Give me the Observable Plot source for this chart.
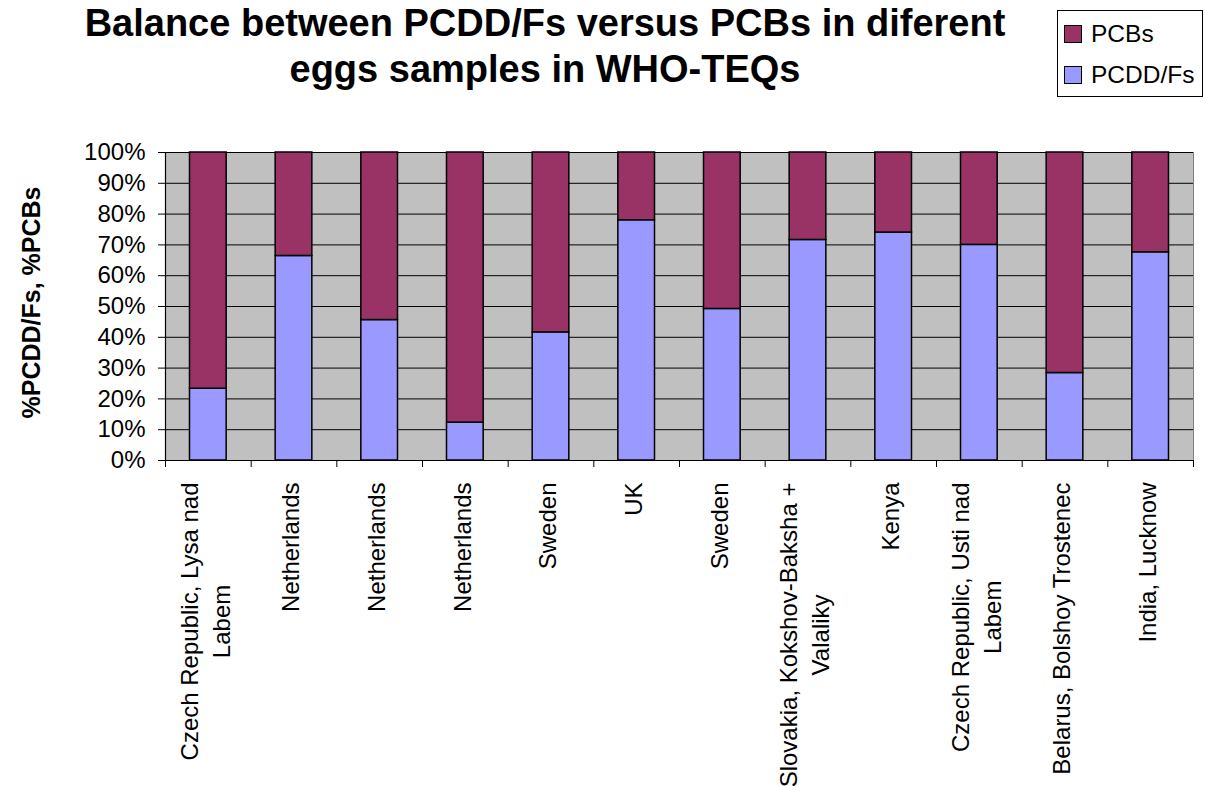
<!DOCTYPE html>
<html>
<head>
<meta charset="utf-8">
<script src="https://cdn.jsdelivr.net/npm/d3@7"></script>
<script src="https://cdn.jsdelivr.net/npm/@observablehq/plot@0.6"></script>
<style>
  html, body { margin: 0; padding: 0; background: #fff; }
  body { font-family: "Liberation Sans", Arial, sans-serif; color: #000; }
  #chart { position: relative; width: 1205px; height: 786px; overflow: hidden; }
  #title {
    position: relative; height: 120px;
  }
  #title div {
    position: absolute; left: 0; top: 0; width: 1090px;
    text-align: center; font-weight: bold; font-size: 38px; line-height: 46px;
  }
  #legend {
    position: absolute; left: 1057px; top: 10px; width: 146px; height: 87px;
    border: 1px solid #000; background: #fff; box-sizing: border-box;
  }
  #legend .item { position: absolute; left: 6px; display: flex; align-items: center; font-size: 24.5px; }
  #legend .swatch { width: 18px; height: 18px; border: 1px solid #000; box-sizing: border-box; margin-right: 9px; }
</style>
</head>
<body>
<div id="chart">
  <div id="title"><div>Balance between PCDD/Fs versus PCBs in diferent<br>eggs samples in WHO-TEQs</div></div>
  <div id="legend"></div>
</div>
<script>
// Egg samples (one bar each), in plotting order
const sites = [
  "Czech Republic, Lysa nad\nLabem",
  "Netherlands",
  "Netherlands",
  "Netherlands",
  "Sweden",
  "UK",
  "Sweden",
  "Slovakia, Kokshov-Baksha +\nValaliky",
  "Kenya",
  "Czech Republic, Usti nad\nLabem",
  "Belarus, Bolshoy Trostenec",
  "India, Lucknow"
];

// Share of WHO-TEQ, in percent
const pcddfs = [23.3, 66.4, 45.6, 12.3, 41.6, 78.0, 49.2, 71.6, 74.0, 70.0, 28.4, 67.6];
const pcbs   = [76.7, 33.6, 54.4, 87.7, 58.4, 22.0, 50.8, 28.4, 26.0, 30.0, 71.6, 32.4];

// Stack order bottom to top, and legend order (top to bottom)
const stackOrder = ["PCDD/Fs", "PCBs"];
const legendOrder = ["PCBs", "PCDD/Fs"];
const seriesColors = {"PCBs": "#993366", "PCDD/Fs": "#9999FF"};

const yTicks = [0, 0.1, 0.2, 0.3, 0.4, 0.5, 0.6, 0.7, 0.8, 0.9, 1];
const yTitle = "%PCDD/Fs, %PCBs";

const font = '"Liberation Sans", Arial, sans-serif';

// Long table with explicit stack extents
const rows = [];
sites.forEach((s, i) => {
  const vals = {"PCDD/Fs": pcddfs[i], "PCBs": pcbs[i]};
  let base = 0;
  for (const k of stackOrder) {
    rows.push({i, series: k, y1: base / 100, y2: (base + vals[k]) / 100});
    base += vals[k];
  }
});

const boundaries = d3.range(sites.length + 1);
const centers = sites.map((_, i) => i + 0.5);

const svg = Plot.plot({
  width: 1205,
  height: 666,
  marginTop: 32,
  marginBottom: 326,
  marginLeft: 165,
  marginRight: 12,
  style: {fontFamily: font, fontSize: "24px", color: "#000", background: "transparent", overflow: "visible"},
  x: {domain: [0, sites.length], axis: null},
  y: {domain: [0, 1], axis: null},
  color: {domain: Object.keys(seriesColors), range: Object.values(seriesColors)},
  marks: [
    Plot.frame({fill: "#c0c0c0", stroke: "#808080"}),
    Plot.gridY(yTicks, {stroke: "#000", strokeOpacity: 1, strokeWidth: 1}),
    Plot.rect(rows, {
      x1: "i", x2: d => d.i + 1, y1: "y1", y2: "y2",
      fill: "series", stroke: "#000", strokeWidth: 1.5,
      insetLeft: 24.5, insetRight: 24.5
    }),
    Plot.ruleX([0], {stroke: "#000", strokeWidth: 1.2}),
    Plot.ruleY([0], {stroke: "#000", strokeWidth: 1.2}),
    Plot.axisY(yTicks, {
      tickSize: 7, tickPadding: 13, tickFormat: d3.format(".0%"),
      fontSize: 24, label: null, stroke: "#000"
    }),
    Plot.axisX(boundaries, {tickSize: 7, tickFormat: () => "", label: null, stroke: "#000"}),
    Plot.axisX(centers, {
      tickSize: 0, tickPadding: 22, tickRotate: -90, dx: -5,
      tickFormat: t => sites[Math.floor(t)],
      fontSize: 24, lineHeight: 1.33, label: null
    }),
    Plot.text([yTitle], {
      frameAnchor: "left", textAnchor: "middle", rotate: -90, dx: -134, dy: -4,
      fontWeight: "bold", fontSize: 25, text: d => d
    })
  ]
});

document.getElementById("chart").appendChild(svg);

// Center the lines of multi-line category labels on each other
d3.select(svg).selectAll('g[aria-label="x-axis tick label"] text').each(function () {
  const spans = d3.select(this).selectAll("tspan");
  if (spans.size() < 2) return;
  let maxLen = 0;
  spans.each(function () { maxLen = Math.max(maxLen, this.getComputedTextLength()); });
  d3.select(this).attr("text-anchor", "middle");
  spans.attr("x", -maxLen / 2);
});

// Legend
const legend = d3.select("#legend");
legendOrder.forEach((k, j) => {
  const item = legend.append("div").attr("class", "item").style("top", (j === 0 ? 9 : 50) + "px");
  item.append("div").attr("class", "swatch").style("background", seriesColors[k]);
  item.append("span").text(k);
});
</script>
</body>
</html>
